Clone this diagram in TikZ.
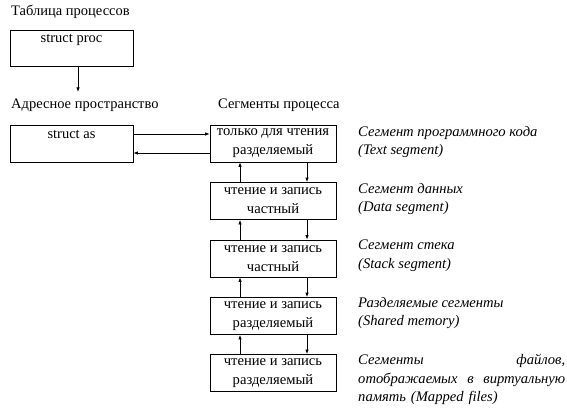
\documentclass[tikz,border=0pt]{standalone}
\usepackage{fontspec}
\setmainfont{Liberation Serif}
\usetikzlibrary{arrows.meta}
\begin{document}
\begin{tikzpicture}[x=1pt,y=-1pt,
  box/.style={draw,line width=0.8pt,inner sep=0pt},
  boxtext/.style={font=\fontsize{14.5}{18}\selectfont,align=center,inner sep=0pt},
  lbl/.style={font=\fontsize{14.5}{18}\selectfont,anchor=west,inner sep=0pt},
  desc/.style={font=\fontsize{14.6}{18.5}\selectfont\itshape,anchor=north west,inner sep=0pt,align=left},
  arr/.style={line width=0.8pt,-{Latex[length=4.5pt,width=3.5pt]}}]
\useasboundingbox (0,0) rectangle (567,409);
% titles
\node[lbl] (t1) at (11,12) {Таблица процессов};
\node[lbl] (t2) at (11,105) {Адресное пространство};
\node[lbl] (t3) at (218,105) {Сегменты процесса};
% struct proc
\node[box,minimum width=123pt,minimum height=36pt] (proc) at (71.5,48) {};
\node[boxtext] (proct) at (71.5,40) {struct proc};
\draw[arr] (proc.south -| 78,0) -- (78,92) coordinate (p2);
% struct as
\node[box,minimum width=123pt,minimum height=37pt] (as) at (71.5,143.5) {};
\node[boxtext] (ast) at (71.5,134) {struct as};
% segments
\foreach \n/\y/\a/\b in {s1/143.5/только для чтения/разделяемый,
                         s2/201/чтение и запись/частный,
                         s3/258.5/чтение и запись/частный,
                         s4/316/чтение и запись/разделяемый,
                         s5/373/чтение и запись/разделяемый}{
  \node[box,minimum width=126pt,minimum height=37pt,boxtext,font=\fontsize{14.6}{19}\selectfont] (\n) at (273,\y) {\a\\\b};
}
% as <-> s1
\draw[arr] ([yshift=9.5pt]as.east) -- ([yshift=9.5pt]s1.west);
\draw[arr] ([yshift=-9.5pt]s1.west) -- ([yshift=-9.5pt]as.east);
% vertical arrows
\foreach \u/\l in {s1/s2,s2/s3,s3/s4,s4/s5}{
  \draw[arr] (\l.north -| 240,0) -- (\u.south -| 240,0);
  \draw[arr] (\u.south -| 307,0) -- (\l.north -| 307,0);
}
% descriptions
\node[desc] (d1) at (358,126) {Сегмент программного кода\\(Text segment)};
\node[desc] (d2) at (358,183) {Сегмент данных\\(Data segment)};
\node[desc] (d3) at (358,240) {Сегмент стека\\(Stack segment)};
\node[desc] (d4) at (358,297) {Разделяемые сегменты\\(Shared memory)};
\node[desc,text width=207pt] (d5) at (358,354) {Сегменты\hfill файлов,\\отображаемых\hfill в\hfill виртуальную\\память (Mapped files)};
\end{tikzpicture}
\end{document}
